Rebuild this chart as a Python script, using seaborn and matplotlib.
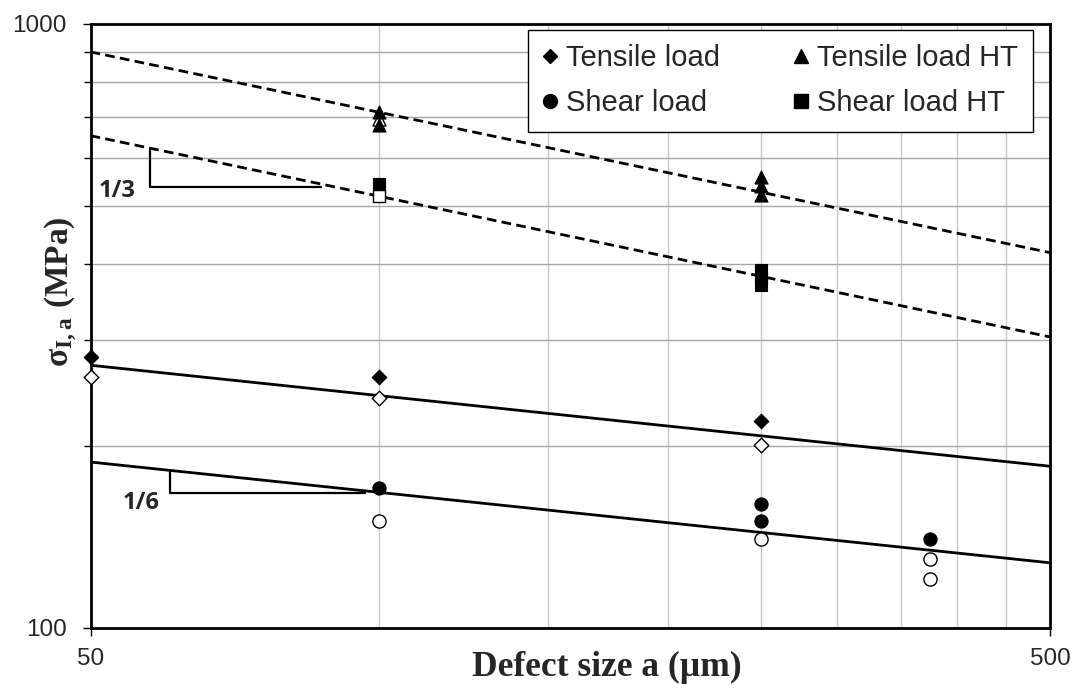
import matplotlib
matplotlib.use("Agg")
import matplotlib.pyplot as plt
import seaborn as sns
import numpy as np
from matplotlib.lines import Line2D
from matplotlib.ticker import NullFormatter, FixedLocator, FixedFormatter

# ---------------- data ----------------
tensile_x = [50, 100, 250]
tensile_y = [281, 260, 220]
tensile_open_x = [50, 100, 250]
tensile_open_y = [260, 240, 201]

tensile_ht_x = [100, 100, 250, 250, 250]
tensile_ht_y = [715, 681, 558, 539, 521]
tensile_ht_open_x = [100]
tensile_ht_open_y = [696]

shear_ht_x = [100, 250, 250, 250]
shear_ht_y = [543, 391, 380, 370]
shear_ht_open_x = [100]
shear_ht_open_y = [519]

shear_x = [100, 250, 250, 375]
shear_y = [170.5, 160, 150, 140]
shear_open_x = [100, 250, 375, 375]
shear_open_y = [150, 140, 130, 120.5]

fit_x = [50, 500]
fit_tensile_ht = [899, 418]
fit_shear_ht = [653, 303]
fit_tensile = [272, 185]
fit_shear = [188, 128]

slope3_x = [57.7, 57.7, 87]
slope3_y = [621, 537, 537]
slope6_x = [60.5, 60.5, 96.6]
slope6_y = [181, 167, 167]

legend_labels = ["Tensile load", "Shear load", "Tensile load HT", "Shear load HT"]
x_ticks = [50, 500]
x_minor = [100, 150, 200, 250, 300, 350, 400, 450]
y_ticks = [100, 1000]
y_minor = [200, 300, 400, 500, 600, 700, 800, 900]

# ---------------- style ----------------
sns.set_theme(style="white")
plt.rcParams["font.family"] = ["Liberation Sans", "DejaVu Sans"]
plt.rcParams["mathtext.fontset"] = "custom"
plt.rcParams["mathtext.rm"] = "Liberation Serif:bold"
plt.rcParams["mathtext.bf"] = "Liberation Serif:bold"
plt.rcParams["mathtext.it"] = "Liberation Serif:bold"

fig = plt.figure(figsize=(10.8, 6.91), dpi=100)
ax = fig.add_axes([90.5 / 1080, 1 - 627.5 / 691, (1050 - 90.5) / 1080, (627.5 - 24) / 691])

ax.set_xscale("log")
ax.set_yscale("log")
ax.set_xlim(50, 500)
ax.set_ylim(100, 1000)

# ticks & grid
ax.xaxis.set_major_locator(FixedLocator(x_ticks))
ax.xaxis.set_major_formatter(FixedFormatter([str(v) for v in x_ticks]))
ax.xaxis.set_minor_locator(FixedLocator(x_minor))
ax.xaxis.set_minor_formatter(NullFormatter())
ax.yaxis.set_major_locator(FixedLocator(y_ticks))
ax.yaxis.set_major_formatter(FixedFormatter([str(v) for v in y_ticks]))
ax.yaxis.set_minor_locator(FixedLocator(y_minor))
ax.yaxis.set_minor_formatter(NullFormatter())
ax.grid(False)
ax.grid(which="minor", axis="x", color="#c8c8c8", linewidth=1.0)
ax.grid(which="minor", axis="y", color="#a6a6a6", linewidth=1.0)
ax.set_axisbelow(True)

ax.tick_params(axis="x", which="major", direction="out", length=6, width=1.0,
               color="black", labelsize=17.5, pad=9, bottom=True)
ax.tick_params(axis="y", which="major", direction="out", length=6, width=1.0,
               color="black", labelsize=17.5, pad=11, left=True)
ax.tick_params(axis="y", which="minor", direction="out", length=5, width=1.0,
               color="black", left=True)
ax.tick_params(axis="x", which="minor", length=0)

for s in ax.spines.values():
    s.set_color("black")
    s.set_linewidth(2.0)

# fit lines
dash = (0, (3.5, 1.9))
sns.lineplot(x=fit_x, y=fit_tensile_ht, ax=ax, color="black", linewidth=2.0,
             linestyle=dash, legend=False)
sns.lineplot(x=fit_x, y=fit_shear_ht, ax=ax, color="black", linewidth=2.0,
             linestyle=dash, legend=False)
sns.lineplot(x=fit_x, y=fit_tensile, ax=ax, color="black", linewidth=2.0, legend=False)
sns.lineplot(x=fit_x, y=fit_shear, ax=ax, color="black", linewidth=2.0, legend=False)

# slope triangles
sns.lineplot(x=slope3_x, y=slope3_y, ax=ax, color="black", linewidth=1.6, sort=False,
             estimator=None, legend=False)
sns.lineplot(x=slope6_x, y=slope6_y, ax=ax, color="black", linewidth=1.6, sort=False,
             estimator=None, legend=False)
ax.text(53.3, 529, "1/3", fontsize=17, fontweight="bold", family=["Open Sans", "DejaVu Sans"],
        ha="center", va="center")
ax.text(56.5, 161, "1/6", fontsize=17, fontweight="bold", family=["Open Sans", "DejaVu Sans"],
        ha="center", va="center")

# markers
def pts(x, y, marker, s, filled):
    if filled:
        sns.scatterplot(x=x, y=y, ax=ax, marker=marker, s=s, color="black",
                        edgecolor="black", linewidth=0.8, legend=False, zorder=5,
                        clip_on=False)
    else:
        sns.scatterplot(x=x, y=y, ax=ax, marker=marker, s=s, color="white",
                        edgecolor="black", linewidth=1.0, legend=False, zorder=4,
                        clip_on=False)

pts(tensile_open_x, tensile_open_y, "D", 55, False)
pts(tensile_x, tensile_y, "D", 55, True)
pts(tensile_ht_open_x, tensile_ht_open_y, "^", 88, False)
pts(tensile_ht_x, tensile_ht_y, "^", 88, True)
pts(shear_ht_open_x, shear_ht_open_y, "s", 85, False)
pts(shear_ht_x, shear_ht_y, "s", 85, True)
pts(shear_open_x, shear_open_y, "o", 90, False)
pts(shear_x, shear_y, "o", 90, True)

ax.set_xlabel("Defect size a (µm)", fontsize=25.5, fontweight="bold",
              family=["Liberation Serif", "DejaVu Serif"], va="center")
ax.xaxis.set_label_coords(0.538, -0.066)
ax.set_ylabel(r"$\mathbf{σ_{I,a}\ (MPa)}$", fontsize=24, va="center", ha="center")
ax.yaxis.set_label_coords(-0.031, 0.556)

handles = [
    Line2D([], [], marker="D", color="black", linestyle="none", markersize=7.5),
    Line2D([], [], marker="o", color="black", linestyle="none", markersize=10),
    Line2D([], [], marker="^", color="black", linestyle="none", markersize=10),
    Line2D([], [], marker="s", color="black", linestyle="none", markersize=9.5),
]
leg = ax.legend(handles, legend_labels, ncol=2, loc="upper right",
                bbox_to_anchor=(0.982, 0.9907), borderaxespad=0, fontsize=21,
                frameon=True, fancybox=False, edgecolor="black", framealpha=1,
                handlelength=0.5, handletextpad=0.3, columnspacing=2.55,
                labelspacing=0.58, borderpad=0.5)
leg.get_frame().set_linewidth(1.0)

fig.savefig("out.png", dpi=100)
